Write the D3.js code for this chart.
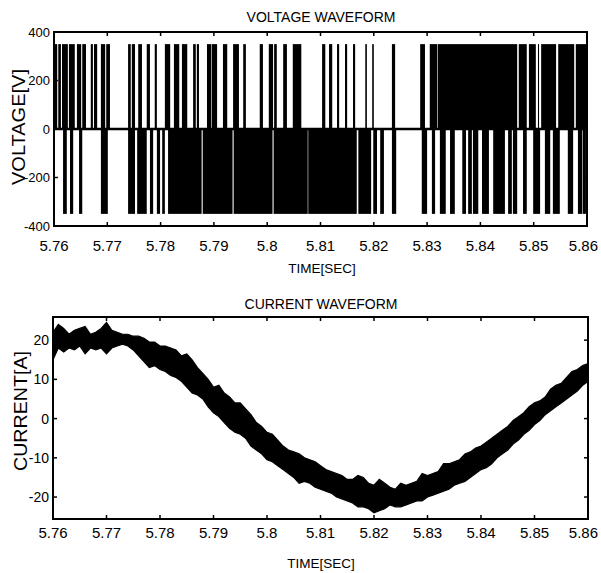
<!DOCTYPE html>
<html>
<head>
<meta charset="utf-8">
<script src="https://cdn.jsdelivr.net/npm/d3@7/dist/d3.min.js"></script>
<style>
  html, body { margin: 0; padding: 0; background: #fff; }
  svg { display: block; }
  text { font-family: "Liberation Sans", Arial, Helvetica, sans-serif; fill: #000; }
</style>
</head>
<body>
<script>
// ---------- DATA ----------
const timeTicks = [5.76, 5.77, 5.78, 5.79, 5.80, 5.81, 5.82, 5.83, 5.84, 5.85, 5.86];
const timeTickLabels = ["5.76", "5.77", "5.78", "5.79", "5.8", "5.81", "5.82", "5.83", "5.84", "5.85", "5.86"];
const voltageTicks = [400, 200, 0, -200, -400];
const currentTicks = [20, 10, 0, -10, -20];
const pulseLevel = 350; // DC link level of the PWM pulses [V]

// +350 V pulses: [start, end] in seconds
const posPulses = [
  [5.7600, 5.7606], [5.7608, 5.7613], [5.7615, 5.7626], [5.7628, 5.7639],
  [5.7643, 5.7651], [5.7653, 5.7660], [5.7669, 5.7673], [5.7675, 5.7681],
  [5.7688, 5.7696], [5.7698, 5.7705], [5.7739, 5.7744], [5.7746, 5.7752],
  [5.7758, 5.7765], [5.7774, 5.7780], [5.7789, 5.7793], [5.7808, 5.7818],
  [5.7825, 5.7835], [5.7840, 5.7850], [5.7861, 5.7866], [5.7868, 5.7872],
  [5.7887, 5.7895], [5.7896, 5.7906], [5.7917, 5.7925], [5.7936, 5.7947],
  [5.7955, 5.7960], [5.7986, 5.7992], [5.8003, 5.8011], [5.8013, 5.8018],
  [5.8030, 5.8037], [5.8048, 5.8064], [5.8103, 5.8109], [5.8116, 5.8122],
  [5.8131, 5.8135], [5.8146, 5.8150], [5.8161, 5.8165], [5.8184, 5.8187],
  [5.8197, 5.8200], [5.8234, 5.8240], [5.8287, 5.8296], [5.8305, 5.8319],
  [5.8320, 5.8469], [5.8472, 5.8487], [5.8491, 5.8504], [5.8508, 5.8510],
  [5.8514, 5.8542], [5.8546, 5.8576], [5.8579, 5.8600]
];

// -350 V pulses: [start, end] in seconds
const negPulses = [
  [5.7617, 5.7624], [5.7630, 5.7636], [5.7647, 5.7653], [5.7688, 5.7701],
  [5.7739, 5.7752], [5.7756, 5.7774], [5.7780, 5.7786], [5.7793, 5.7799],
  [5.7803, 5.7808], [5.7814, 5.7877], [5.7879, 5.7935], [5.7937, 5.8010],
  [5.8012, 5.8076], [5.8077, 5.8168], [5.8171, 5.8195], [5.8199, 5.8206],
  [5.8212, 5.8219], [5.8234, 5.8242], [5.8290, 5.8300], [5.8309, 5.8315],
  [5.8324, 5.8335], [5.8343, 5.8352], [5.8366, 5.8373], [5.8377, 5.8384],
  [5.8386, 5.8396], [5.8403, 5.8416], [5.8424, 5.8446], [5.8452, 5.8459],
  [5.8461, 5.8469], [5.8480, 5.8487], [5.8499, 5.8512], [5.8521, 5.8531],
  [5.8536, 5.8549], [5.8564, 5.8574], [5.8583, 5.8591], [5.8592, 5.8598]
];

// Current waveform: sample times with upper / lower ripple envelope [A]
const currentTime = [
  5.760, 5.761, 5.762, 5.763, 5.764, 5.765, 5.766, 5.767, 5.768, 5.769,
  5.770, 5.771, 5.772, 5.773, 5.774, 5.775, 5.776, 5.777, 5.778, 5.779,
  5.780, 5.781, 5.782, 5.783, 5.784, 5.785, 5.786, 5.787, 5.788, 5.789,
  5.790, 5.791, 5.792, 5.793, 5.794, 5.795, 5.796, 5.797, 5.798, 5.799,
  5.800, 5.801, 5.802, 5.803, 5.804, 5.805, 5.806, 5.807, 5.808, 5.809,
  5.810, 5.811, 5.812, 5.813, 5.814, 5.815, 5.816, 5.817, 5.818, 5.819,
  5.820, 5.821, 5.822, 5.823, 5.824, 5.825, 5.826, 5.827, 5.828, 5.829,
  5.830, 5.831, 5.832, 5.833, 5.834, 5.835, 5.836, 5.837, 5.838, 5.839,
  5.840, 5.841, 5.842, 5.843, 5.844, 5.845, 5.846, 5.847, 5.848, 5.849,
  5.850, 5.851, 5.852, 5.853, 5.854, 5.855, 5.856, 5.857, 5.858, 5.859,
  5.860
];
const currentUpper = [
  22, 24, 23, 21.5, 22.5, 23, 23.5, 21.5, 22, 23,
  24.5, 22.5, 22, 21.5, 21.5, 21, 21, 20.5, 19.5, 19.5,
  18.5, 18.5, 18, 17.5, 16, 16.5, 15, 13, 11.5, 10,
  8, 8.5, 6.5, 5.5, 4, 4, 2.5, 1, -1, -2,
  -3.5, -4, -5.5, -7, -8, -8.5, -9, -10, -10.5, -11,
  -12, -13, -13.5, -14, -14.5, -15.5, -15.5, -14.5, -15, -16.5,
  -17, -15.5, -16.5, -17.5, -18, -16.5, -17, -16.5, -16, -14,
  -14.5, -14, -13.5, -11.5, -11.5, -11, -10.5, -9, -8.5, -7.5,
  -7, -6, -5, -4, -3, -2, -0.5, 0.5, 1.5, 3,
  4, 4.5, 5.5, 7.5, 8.5, 9, 10.5, 12, 12.5, 13.5,
  14
];
const currentLower = [
  15, 18, 17, 18, 17.5, 18.5, 16.5, 18, 17.5, 18,
  16.5, 18, 18.5, 19, 18.5, 17.5, 16, 14.5, 13, 13.5,
  12.5, 12, 11, 10.5, 9.5, 8, 6.5, 6, 5, 3,
  1.5, 0.5, -1, -2.5, -3.5, -4, -5, -7, -8, -9,
  -10.5, -11, -12, -13, -14, -15, -16.5, -16, -16.5, -17.5,
  -18, -18.5, -19, -20, -20.5, -21, -21.5, -22.5, -22.5, -23,
  -24, -23.5, -23, -22, -22.5, -22.5, -22, -21.5, -21, -21,
  -20, -19.5, -19, -18.5, -18, -17, -16.5, -16, -15, -14,
  -13, -12.5, -11.5, -10, -9, -8, -6.5, -5.5, -4, -3,
  -1.5, -0.5, 1, 2, 3, 4, 5, 6, 7, 8.5,
  9.5
];

// ---------- DRAWING ----------
const W = 601, H = 573;
const svg = d3.select("body").append("svg").attr("width", W).attr("height", H);

function frame(g, x, y, opts) {
  const [x0, x1] = x.range();
  const [yb, yt] = y.range();
  const tickLen = 4;
  timeTicks.forEach(t => {
    const xx = x(t);
    g.append("line").attr("x1", xx).attr("x2", xx).attr("y1", yb).attr("y2", yb - tickLen)
      .attr("stroke", "#000").attr("stroke-width", 1.5);
    g.append("line").attr("x1", xx).attr("x2", xx).attr("y1", yt).attr("y2", yt + tickLen)
      .attr("stroke", "#000").attr("stroke-width", 1.5);
  });
  opts.yTicks.forEach(v => {
    const yy = y(v);
    g.append("line").attr("x1", x0).attr("x2", x0 + tickLen).attr("y1", yy).attr("y2", yy)
      .attr("stroke", "#000").attr("stroke-width", 1.5);
    g.append("line").attr("x1", x1).attr("x2", x1 - tickLen).attr("y1", yy).attr("y2", yy)
      .attr("stroke", "#000").attr("stroke-width", 1.5);
  });
  g.append("rect").attr("x", x0).attr("y", yt).attr("width", x1 - x0).attr("height", yb - yt)
    .attr("fill", "none").attr("stroke", "#000").attr("stroke-width", 2);

  // x tick labels (last one kept inside the page)
  timeTicks.forEach((t, i) => {
    const last = i === timeTicks.length - 1;
    g.append("text").attr("x", last ? 598 : x(t)).attr("y", opts.xLabelY)
      .attr("text-anchor", last ? "end" : "middle")
      .attr("font-size", 15).text(timeTickLabels[i]);
  });
  opts.yTicks.forEach(v => {
    g.append("text").attr("x", x0 - 4).attr("y", y(v)).attr("dy", "0.36em")
      .attr("text-anchor", "end").attr("font-size", opts.yTickFont).text(v);
  });
  g.append("text").attr("x", opts.titleX).attr("y", opts.titleY).attr("text-anchor", "middle")
    .attr("font-size", 14).text(opts.title);
  g.append("text").attr("x", opts.xTitleX).attr("y", opts.xTitleY).attr("text-anchor", "middle")
    .attr("font-size", 13.5).text("TIME[SEC]");
  g.append("text").attr("transform", `translate(${opts.yTitleX},${opts.yTitleY}) rotate(-90)`)
    .attr("text-anchor", "middle").attr("dy", "0.36em")
    .attr("font-size", 18).attr("textLength", opts.yTitleLen).attr("lengthAdjust", "spacingAndGlyphs")
    .text(opts.yTitle);
}

// ----- Voltage panel -----
const xV = d3.scaleLinear().domain([5.76, 5.86]).range([54, 587]);
const yV = d3.scaleLinear().domain([-400, 400]).range([226, 32]);
const gV = svg.append("g");

gV.append("g").selectAll("rect").data(posPulses).join("rect")
  .attr("x", d => xV(d[0]))
  .attr("width", d => Math.max(1, xV(d[1]) - xV(d[0])))
  .attr("y", yV(pulseLevel))
  .attr("height", yV(0) - yV(pulseLevel))
  .attr("fill", "#000");
gV.append("g").selectAll("rect").data(negPulses).join("rect")
  .attr("x", d => xV(d[0]))
  .attr("width", d => Math.max(1, xV(d[1]) - xV(d[0])))
  .attr("y", yV(0))
  .attr("height", yV(-pulseLevel) - yV(0))
  .attr("fill", "#000");
gV.append("line").attr("x1", xV(5.76)).attr("x2", xV(5.86)).attr("y1", yV(0)).attr("y2", yV(0))
  .attr("stroke", "#000").attr("stroke-width", 2.5);

frame(gV, xV, yV, {
  yTicks: voltageTicks, yTickFont: 13, xLabelY: 251,
  title: "VOLTAGE WAVEFORM", titleX: 321, titleY: 22,
  xTitleX: 322, xTitleY: 273,
  yTitle: "VOLTAGE[V]", yTitleX: 19, yTitleY: 127, yTitleLen: 116
});

// ----- Current panel -----
const xC = d3.scaleLinear().domain([5.76, 5.86]).range([53, 588]);
const yC = d3.scaleLinear().domain([-25.6, 25.9]).range([519, 317]);
const gC = svg.append("g");

const currentData = currentTime.map((t, i) => ({ t, hi: currentUpper[i], lo: currentLower[i] }));
const area = d3.area().x(d => xC(d.t)).y0(d => yC(d.lo)).y1(d => yC(d.hi));
gC.append("path").datum(currentData).attr("d", area)
  .attr("fill", "#000").attr("stroke", "#000").attr("stroke-width", 1.2).attr("stroke-linejoin", "miter");

frame(gC, xC, yC, {
  yTicks: currentTicks, yTickFont: 14, xLabelY: 538,
  title: "CURRENT WAVEFORM", titleX: 321, titleY: 309,
  xTitleX: 321, xTitleY: 568,
  yTitle: "CURRENT[A]", yTitleX: 21, yTitleY: 411, yTitleLen: 120
});
</script>
</body>
</html>
